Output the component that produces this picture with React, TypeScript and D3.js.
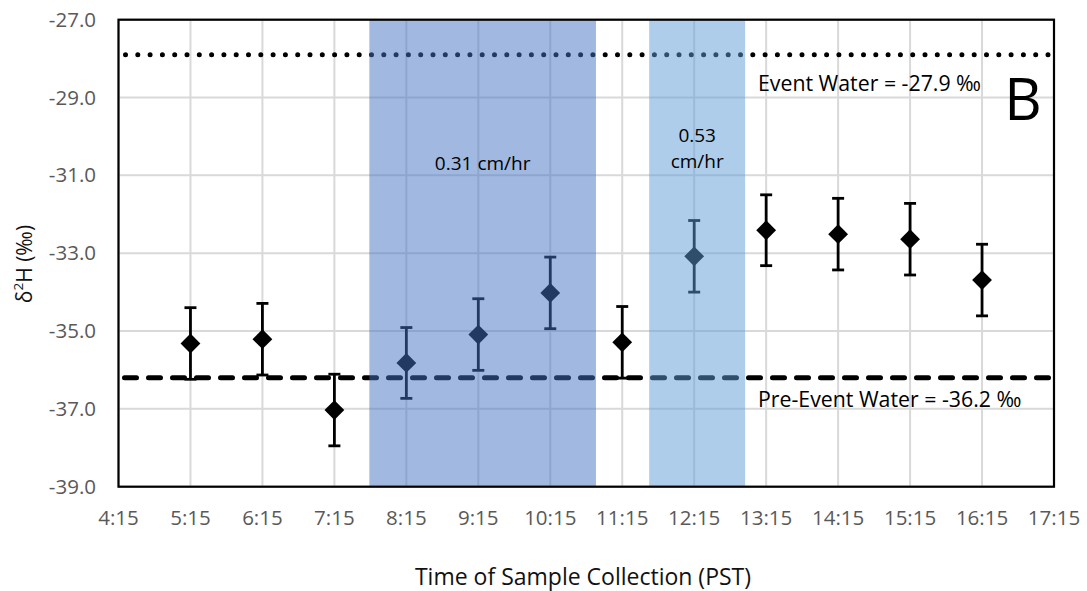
import React from "react";
import * as d3 from "d3";

// Sample times (decimal hours, PST) and measured δ2H values (‰)
const sampleTimes = [5.25, 6.25, 7.25, 8.25, 9.25, 10.25, 11.25, 12.25, 13.25, 14.25, 15.25, 16.25];
const d2H = [-35.32, -35.21, -37.03, -35.82, -35.09, -34.02, -35.29, -33.08, -32.41, -32.51, -32.64, -33.69];
const d2HErr = [0.92, 0.92, 0.92, 0.91, 0.92, 0.92, 0.92, 0.92, 0.91, 0.92, 0.92, 0.92];

// Axis ticks
const xTicks = [4.25, 5.25, 6.25, 7.25, 8.25, 9.25, 10.25, 11.25, 12.25, 13.25, 14.25, 15.25, 16.25, 17.25];
const xTickLabels = ["4:15", "5:15", "6:15", "7:15", "8:15", "9:15", "10:15", "11:15", "12:15", "13:15", "14:15", "15:15", "16:15", "17:15"];
const yTicks = [-27, -29, -31, -33, -35, -37, -39];

// End-member reference values (‰)
const eventWater = -27.9;
const preEventWater = -36.2;

// Rainfall intensity periods: [start, end] in decimal hours
const rainStart = [7.736, 11.625];
const rainEnd = [10.885, 12.958];
const rainColor = ["#4472C4", "#5B9BD5"];
const rainLabel = [["0.31 cm/hr"], ["0.53", "cm/hr"]];

const W = 1087;
const H = 591;
const left = 118.5;
const right = 1054;
const top = 19.7;
const bottom = 486.7;
const FONT = "'Open Sans', sans-serif";

export default function App() {
  const x = d3.scaleLinear().domain([4.25, 17.25]).range([left, right]);
  const y = d3.scaleLinear().domain([-39, -27]).range([bottom, top]);
  const diamond = d3.symbol().type(d3.symbolDiamond2).size(250)() as string;

  return (
    <svg width={W} height={H} style={{ position: "absolute", left: 0, top: 0, background: "#fff" }}>
      {/* gridlines */}
      {xTicks.map((t) => (
        <line key={"gx" + t} x1={x(t)} x2={x(t)} y1={top} y2={bottom} stroke="#d9d9d9" strokeWidth={2} />
      ))}
      {yTicks.map((t) => (
        <line key={"gy" + t} x1={left} x2={right} y1={y(t)} y2={y(t)} stroke="#d9d9d9" strokeWidth={2} />
      ))}

      {/* end-member lines */}
      <line x1={x(4.25) + 7} x2={right + 3} y1={y(eventWater)} y2={y(eventWater)} stroke="#000" strokeWidth={5}
        strokeLinecap="round" strokeDasharray="0 12.3" />
      <line x1={x(4.25) + 6} x2={right} y1={y(preEventWater)} y2={y(preEventWater)} stroke="#000" strokeWidth={5}
        strokeLinecap="round" strokeDasharray="12 12" />

      {/* error bars */}
      {sampleTimes.map((t, i) => {
        const cx = x(t);
        const y1 = y(d2H[i] + d2HErr[i]);
        const y2 = y(d2H[i] - d2HErr[i]);
        return (
          <g key={"e" + i} stroke="#000" strokeWidth={2.8}>
            <line x1={cx} x2={cx} y1={y1} y2={y2} />
            <line x1={cx - 6} x2={cx + 6} y1={y1} y2={y1} />
            <line x1={cx - 6} x2={cx + 6} y1={y2} y2={y2} />
          </g>
        );
      })}

      {/* sample markers */}
      {sampleTimes.map((t, i) => (
        <path key={"m" + i} d={diamond} transform={`translate(${x(t)},${y(d2H[i])})`} fill="#000" />
      ))}

      {/* rainfall periods */}
      {rainStart.map((s, i) => (
        <rect key={"r" + i} x={x(s)} y={top} width={x(rainEnd[i]) - x(s)} height={bottom - top}
          fill={rainColor[i]} fillOpacity={0.5} />
      ))}

      {/* plot frame */}
      <rect x={left} y={top} width={right - left} height={bottom - top} fill="none" stroke="#000" strokeWidth={2.2} />

      {/* rainfall labels */}
      <text x={(x(rainStart[0]) + x(rainEnd[0])) / 2} y={170} textAnchor="middle" fontFamily={FONT} fontSize={19} fill="#000">
        {rainLabel[0][0]}
      </text>
      <text x={(x(rainStart[1]) + x(rainEnd[1])) / 2} y={142} textAnchor="middle" fontFamily={FONT} fontSize={19} fill="#000">
        {rainLabel[1][0]}
      </text>
      <text x={(x(rainStart[1]) + x(rainEnd[1])) / 2} y={168} textAnchor="middle" fontFamily={FONT} fontSize={19} fill="#000">
        {rainLabel[1][1]}
      </text>

      {/* end-member labels */}
      <text x={758} y={91} fontFamily={FONT} fontSize={21.3} fill="#000">{`Event Water = ${eventWater.toFixed(1)} ‰`}</text>
      <text x={758} y={407} fontFamily={FONT} fontSize={21.3} fill="#000">{`Pre-Event Water = ${preEventWater.toFixed(1)} ‰`}</text>

      {/* panel letter */}
      <text x={1023} y={120} textAnchor="middle" fontFamily={FONT} fontSize={58} fill="#000">B</text>

      {/* y tick labels */}
      {yTicks.map((t) => (
        <text key={"ty" + t} x={96} y={y(t) + 7} textAnchor="end" fontFamily={FONT} fontSize={20.5} fill="#595959">
          {t.toFixed(1)}
        </text>
      ))}

      {/* x tick labels */}
      {xTicks.map((t, i) => (
        <text key={"tx" + t} x={x(t)} y={525} textAnchor="middle" fontFamily={FONT} fontSize={20.5} fill="#595959">
          {xTickLabels[i]}
        </text>
      ))}

      {/* axis titles */}
      <text x={583} y={585} textAnchor="middle" fontFamily={FONT} fontSize={23} fill="#111">
        Time of Sample Collection (PST)
      </text>
      <text transform="translate(32,264) rotate(-90)" textAnchor="middle" fontFamily={FONT} fontSize={21} fill="#111">
        δ<tspan baselineShift="super" fontSize={13.5}>2</tspan>H (‰)
      </text>
    </svg>
  );
}
